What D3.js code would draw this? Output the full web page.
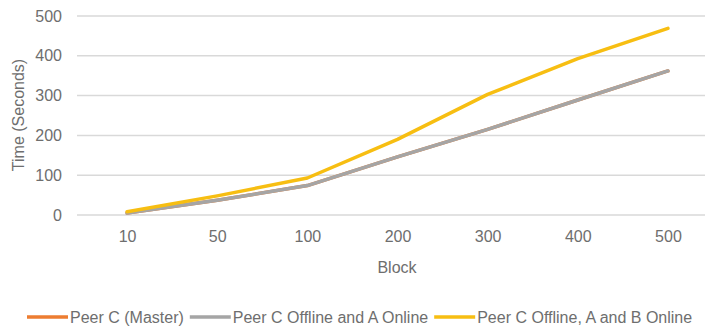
<!DOCTYPE html>
<html><head><meta charset="utf-8">
<script src="https://cdn.jsdelivr.net/npm/d3@7"></script>
<style>
html,body{margin:0;padding:0;background:#fff;}
svg{display:block;font-family:"Liberation Sans",Arial,sans-serif;}
</style></head>
<body><svg id="c" width="705" height="326"></svg>
<script>
const categories = ["10","50","100","200","300","400","500"];
const yTicks = [0,100,200,300,400,500];
const seriesNames = ["Peer C (Master)","Peer C Offline and A Online","Peer C Offline, A and B Online"];
const seriesColors = ["#ED7D31","#A5A5A5","#F7BE12"];
const masterValues = [5,37,74,146,215,289,362];
const offlineAValues = [5,37,74,146,215,289,362];
const offlineABValues = [8,48,93,190,303,393,469];
const allSeries = [masterValues, offlineAValues, offlineABValues];

const svg = d3.select("#c");
const textColor = "#6e6e6e";
const fs = 16;

const x = d3.scalePoint().domain(categories).range([82,713]).padding(0.5);
const y = d3.scaleLinear().domain([0,500]).range([215,16]);

// gridlines
svg.append("g").selectAll("line").data(yTicks).join("line")
  .attr("x1",77).attr("x2",705)
  .attr("y1",d=>y(d)).attr("y2",d=>y(d))
  .attr("stroke","#d9d9d9").attr("stroke-width",1.5);

// y axis labels
const yAxis = d3.axisLeft(y).tickValues(yTicks).tickSize(0).tickPadding(0);
const gy = svg.append("g").attr("transform","translate(62,0)").call(yAxis);
gy.select(".domain").remove();
gy.selectAll("text").attr("font-size",fs).attr("fill",textColor)
  .attr("font-family","Liberation Sans, Arial, sans-serif");

// x axis labels
const xAxis = d3.axisBottom(x).tickSize(0).tickPadding(0);
const gx = svg.append("g").attr("transform","translate(0,231)").call(xAxis);
gx.select(".domain").remove();
gx.selectAll("text").attr("font-size",fs).attr("fill",textColor)
  .attr("font-family","Liberation Sans, Arial, sans-serif");

// axis titles
svg.append("text").attr("x",397).attr("y",273).attr("text-anchor","middle")
  .attr("font-size",fs).attr("fill",textColor).text("Block");
svg.append("text").attr("transform","translate(24,115) rotate(-90)")
  .attr("text-anchor","middle").attr("font-size",fs).attr("fill",textColor)
  .text("Time (Seconds)");

// lines
const line = d3.line().x((d,i)=>x(categories[i])).y(d=>y(d));
allSeries.forEach((vals,k)=>{
  svg.append("path").datum(vals).attr("d",line)
    .attr("fill","none").attr("stroke",seriesColors[k])
    .attr("stroke-width",3.5).attr("stroke-linejoin","round").attr("stroke-linecap","round");
});

// legend
let lx = 27;
const ly = 317;
seriesNames.forEach((name,k)=>{
  svg.append("line").attr("x1",lx).attr("x2",lx+41).attr("y1",ly).attr("y2",ly)
    .attr("stroke",seriesColors[k]).attr("stroke-width",3.5);
  const t = svg.append("text").attr("x",lx+43).attr("y",ly+5.5)
    .attr("font-size",fs).attr("fill",textColor).text(name);
  lx = lx + 43 + t.node().getComputedTextLength() + 6;
});
</script></body></html>
